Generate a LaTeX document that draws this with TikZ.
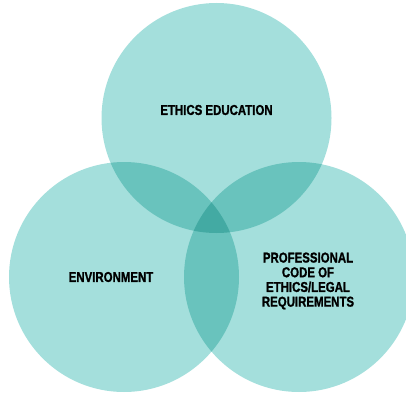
\documentclass[tikz,border=0pt]{standalone}
\usepackage{fontspec}
\setmainfont{Liberation Sans}[FakeStretch=0.8, BoldFeatures={FakeBold=1.2}]
\usepackage{tikz}
\usetikzlibrary{positioning}
\definecolor{ringfill}{HTML}{A4DFDC}

\begin{document}
\begin{tikzpicture}[x=1pt, y=-1pt]
    \tikzset{
        ring/.style={circle, fill=ringfill, minimum size=230pt, inner sep=0pt},
        tag/.style={font=\bfseries\fontsize{14.3}{14.7}\selectfont, align=center, text=black}
    }
    \useasboundingbox (0,0) rectangle (406,393);
    % the three overlapping circles, darker where they overlap
    \begin{scope}[blend group=multiply]
        \node[ring] (edu) at (216.5,118) {};
        \node[ring] (env) at (124,277) {};
        \node[ring] (code) at (299,277) {};
    \end{scope}
    % labels
    \node[tag] (edulbl) at (216.5,110) {ETHICS EDUCATION};
    \node[tag] (envlbl) at (111,277) {ENVIRONMENT};
    \node[tag] (codelbl) at (308,281) {PROFESSIONAL\\CODE OF\\ETHICS/LEGAL\\REQUIREMENTS};
\end{tikzpicture}
\end{document}
